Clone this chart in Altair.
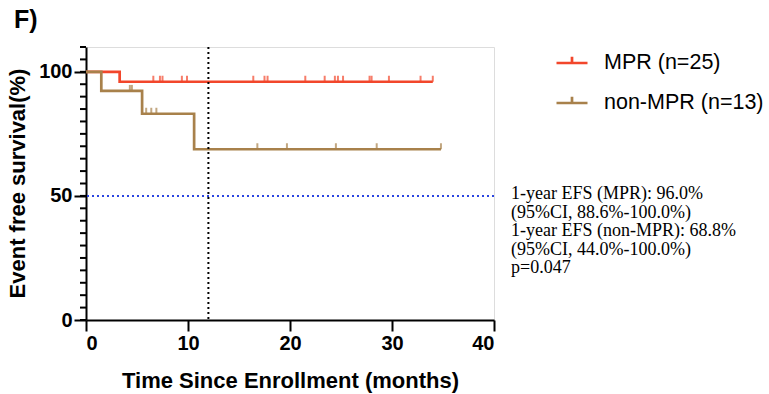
import altair as alt
import pandas as pd

# Kaplan-Meier step curves (time in months, survival in %)
groups = ["MPR (n=25)", "non-MPR (n=13)"]
colors = ["#F2462B", "#A8814B"]

mpr_time = [0, 3.3, 34.0]
mpr_surv = [100, 96.0, 96.0]
non_time = [0, 1.5, 5.5, 10.6, 34.8]
non_surv = [100, 92.3, 83.1, 68.8, 68.8]

# Censored observations
mpr_cens_time = [6.6, 7.25, 7.5, 9.4, 9.9, 16.4, 17.5, 17.8, 21.5, 23.4,
                 24.4, 24.7, 25.2, 27.8, 28.0, 29.7, 32.8, 34.0]
mpr_cens_surv = [96.0] * len(mpr_cens_time)
non_cens_time = [4.3, 4.5, 5.9, 6.4, 6.9, 16.8, 19.7, 24.5, 28.5, 34.8]
non_cens_surv = [92.3, 92.3, 83.1, 83.1, 83.1, 68.8, 68.8, 68.8, 68.8, 68.8]

landmark_month = 12
median_line = 50

y_major_ticks = [0, 50, 100]
y_minor_ticks = list(range(0, 115, 5))
x_ticks = [0, 10, 20, 30, 40]

notes = [
    "1-year EFS (MPR): 96.0%",
    "(95%CI, 88.6%-100.0%)",
    "1-year EFS (non-MPR): 68.8%",
    "(95%CI, 44.0%-100.0%)",
    "p=0.047",
]

curves = pd.concat([
    pd.DataFrame({"time": mpr_time, "surv": mpr_surv, "group": groups[0], "order": range(len(mpr_time))}),
    pd.DataFrame({"time": non_time, "surv": non_surv, "group": groups[1], "order": range(len(non_time))}),
])
censors = pd.concat([
    pd.DataFrame({"time": mpr_cens_time, "surv": mpr_cens_surv, "group": groups[0]}),
    pd.DataFrame({"time": non_cens_time, "surv": non_cens_surv, "group": groups[1]}),
])

W, H = 408, 273
FONT = "Liberation Sans"

color_scale = alt.Scale(domain=groups, range=colors)
x_scale = alt.Scale(domain=[0, 40], nice=False)
y_scale = alt.Scale(domain=[0, 110], nice=False)

x_axis = alt.Axis(
    values=x_ticks, title="Time Since Enrollment (months)",
    grid=False, domainColor="black", domainWidth=2, tickColor="black", tickWidth=2,
    tickSize=11, labelFont=FONT, labelFontSize=20, labelFontWeight="bold",
    labelColor="black", labelPadding=2, labelOverlap=False,
    titleFont=FONT, titleFontSize=22, titleFontWeight="bold", titleColor="black",
    titleX=204, titleY=60, titleBaseline="middle", titleAlign="center",
)
y_axis = alt.Axis(
    values=y_major_ticks, title="Event free survival(%)", labelOverlap=False,
    grid=False, domainColor="black", domainWidth=2, tickColor="black", tickWidth=2,
    tickSize=12, labelFont=FONT, labelFontSize=20, labelFontWeight="bold",
    labelColor="black", labelPadding=2, titleFont=FONT, titleFontSize=22,
    titleFontWeight="bold", titleColor="black", titleX=-69, titleY=136,
    titleBaseline="middle", titleAlign="center",
)

lines = alt.Chart(curves).mark_line(interpolate="step-after", strokeWidth=2.7).encode(
    x=alt.X("time:Q", scale=x_scale, axis=x_axis),
    y=alt.Y("surv:Q", scale=y_scale, axis=y_axis),
    color=alt.Color(
        "group:N", scale=color_scale,
        legend=alt.Legend(
            title=None, orient="none", legendX=469, legendY=-1,
            symbolType="M-1,0H1M0,0V-0.4", symbolSize=961, symbolStrokeWidth=2.7,
            labelFont=FONT, labelFontSize=21.5, labelColor="black", labelOffset=15,
            rowPadding=12,
        ),
        sort=groups,
    ),
    order="order:Q",
    detail="group:N",
)

ticks = alt.Chart(censors).mark_tick(orient="vertical", size=6, thickness=2, yOffset=-3).encode(
    x=alt.X("time:Q"),
    y=alt.Y("surv:Q"),
    color=alt.Color("group:N", legend=None),
)

# minor y ticks every 5 %, just left of the y axis line
minor = alt.Chart(pd.DataFrame({"surv": y_minor_ticks})).mark_rule(
    color="black", strokeWidth=2
).encode(
    y=alt.Y("surv:Q"),
    x=alt.value(-6), x2=alt.value(0),
)

vline = alt.Chart(pd.DataFrame({"time": [landmark_month]})).mark_rule(
    color="black", strokeWidth=2, strokeDash=[2, 3]
).encode(x=alt.X("time:Q"))

hline = alt.Chart(pd.DataFrame({"surv": [median_line]})).mark_rule(
    color="#2B45E0", strokeWidth=2, strokeDash=[2, 3]
).encode(y=alt.Y("surv:Q"))

note_text = alt.Chart(pd.DataFrame({"t": ["\n".join(notes)]})).mark_text(
    align="left", baseline="middle", font="Liberation Serif", fontSize=18,
    lineBreak="\n", lineHeight=18.5, color="black",
).encode(text="t:N", x=alt.value(425), y=alt.value(147))

panel_label = alt.Chart(pd.DataFrame({"t": ["F)"]})).mark_text(
    align="left", baseline="middle", font=FONT, fontSize=25, fontWeight="bold", color="black",
).encode(text="t:N", x=alt.value(-72), y=alt.value(-27))

chart = alt.layer(lines, hline, vline, ticks, minor, note_text, panel_label).properties(
    width=W, height=H,
    autosize=alt.AutoSizeParams(type="none"),
    padding={"left": 86, "top": 47, "right": 275, "bottom": 74},
).configure_view(strokeWidth=0).configure(background="white")

chart.save("out.html", embed_options={"renderer": "svg", "actions": False})
